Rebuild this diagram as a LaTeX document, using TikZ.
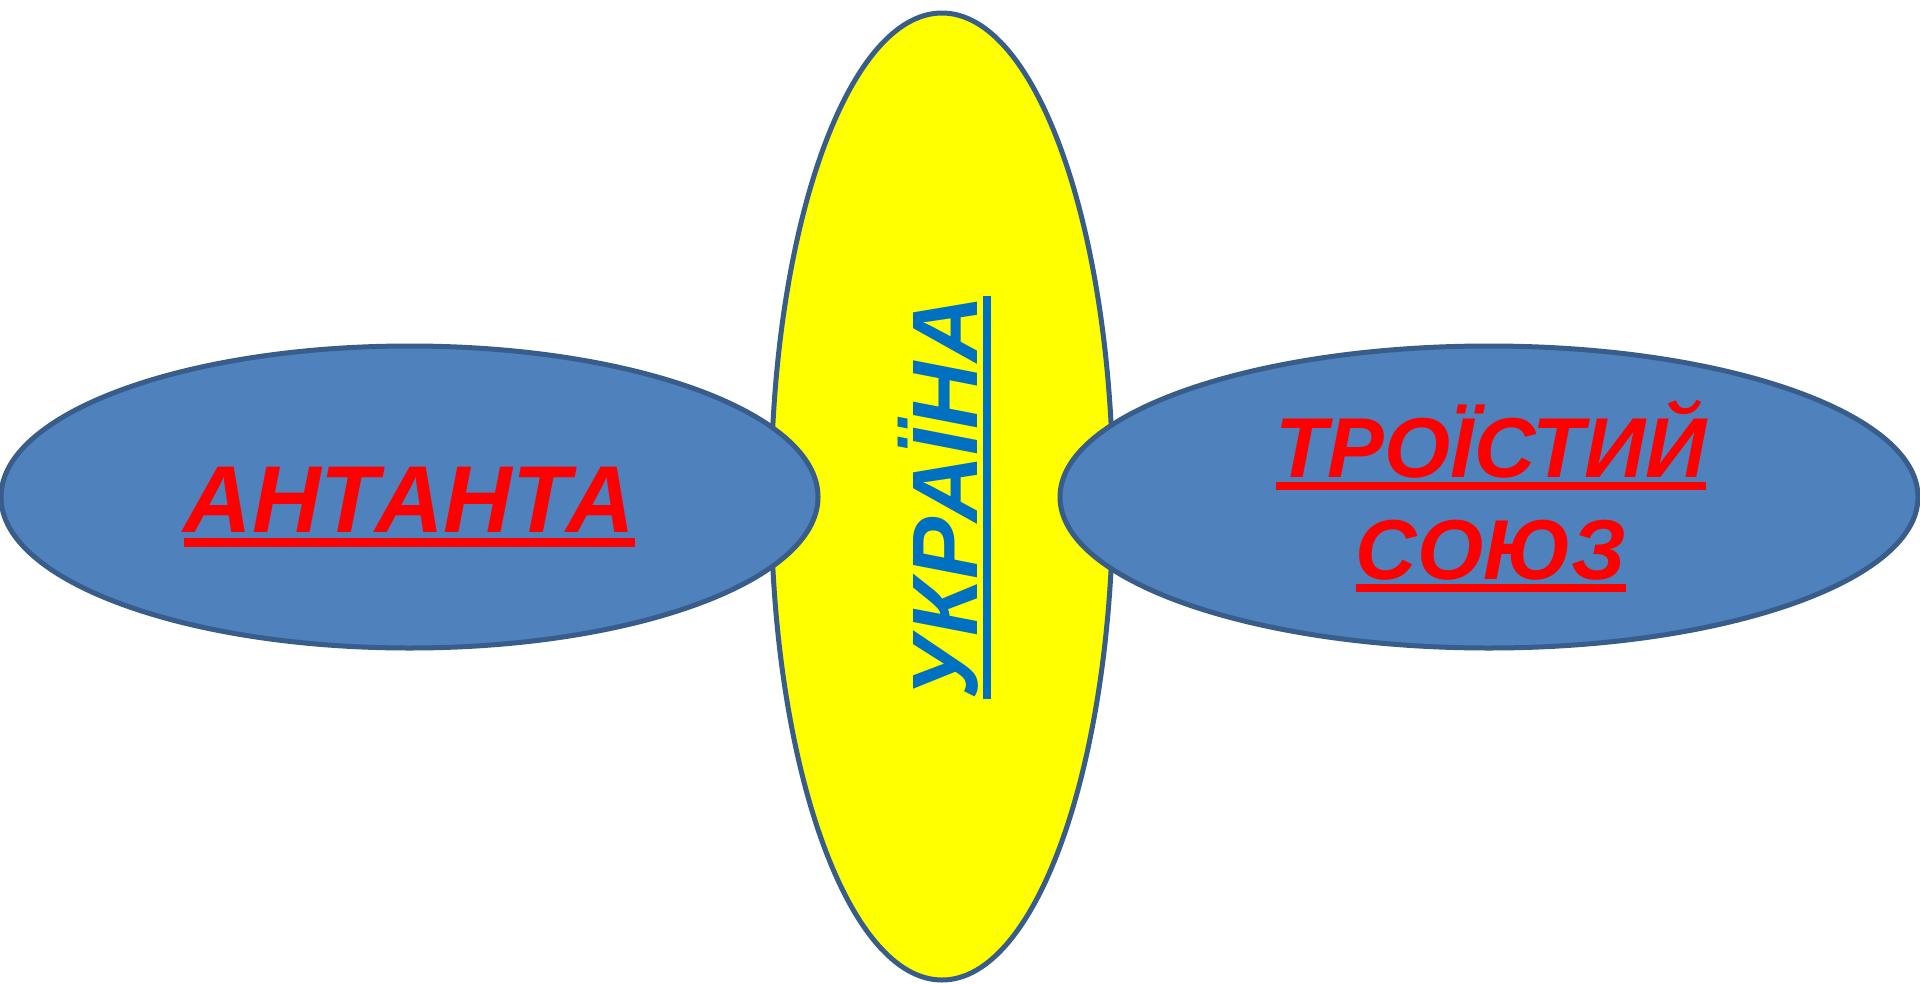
\documentclass[tikz,border=0pt]{standalone}
\usepackage{fontspec}
\setmainfont{Liberation Sans}
\usetikzlibrary{shapes.geometric}
\definecolor{ovalblue}{RGB}{79,129,189}
\definecolor{ovaledge}{RGB}{56,93,138}
\definecolor{ukrblue}{RGB}{0,112,192}
\definecolor{ukryellow}{RGB}{255,255,0}
\definecolor{labelred}{RGB}{255,0,0}
\newcommand\ulword[1]{\setbox0\hbox{#1}\rlap{\rule[-0.155em]{\wd0}{0.095em}}\box0}
\begin{document}
\begin{tikzpicture}[x=1pt,y=-1pt,
  oval/.style={ellipse, draw=ovaledge, line width=5pt, inner sep=0pt},
  biglabel/.style={font=\bfseries\itshape\fontsize{#1}{#1}\selectfont, inner sep=0pt, anchor=base}]
\useasboundingbox (0,0) rectangle (1920,983);
\node[oval, fill=ukryellow, minimum width=342pt, minimum height=967pt] (ukr) at (942,496.5) {};
\node[oval, fill=ovalblue, minimum width=817pt, minimum height=302pt] (ent) at (409.5,497) {};
\node[oval, fill=ovalblue, minimum width=858pt, minimum height=302pt] (tri) at (1489,497) {};
\node[biglabel=95, text=labelred] (entl) at (409.5,532) {\ulword{АНТАНТА}};
\node[biglabel=85, text=labelred] (tril1) at (1491,477) {\ulword{ТРОЇСТИЙ}};
\node[biglabel=85, text=labelred] (tril2) at (1491,579) {\ulword{СОЮЗ}};
\node[biglabel=93, text=ukrblue, rotate=90] (ukrl) at (977,497.5) {\ulword{УКРАЇНА}};
\end{tikzpicture}
\end{document}
